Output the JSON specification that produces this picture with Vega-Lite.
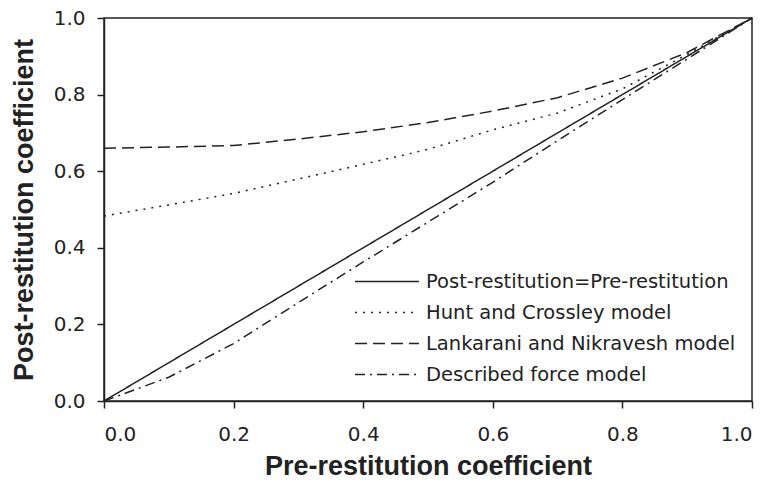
{
  "$schema": "https://vega.github.io/schema/vega-lite/v6.json",
  "autosize": "none",
  "width": 648,
  "height": 383,
  "padding": {"left": 104, "top": 18, "right": 27, "bottom": 83},
  "background": "white",
  "config": {
    "font": "DejaVu Sans",
    "view": {"stroke": "#222", "strokeWidth": 1.5},
    "axis": {
      "grid": false,
      "ticks": true,
      "domainColor": "#222",
      "domainWidth": 1.5,
      "tickColor": "#222",
      "tickWidth": 1.5,
      "tickSize": 7,
      "labelFont": "DejaVu Sans",
      "labelFontSize": 20,
      "labelColor": "#222",
      "titleFont": "Liberation Sans",
      "titleFontSize": 27,
      "titleFontWeight": "bold",
      "titleColor": "#222"
    },
    "legend": {
      "labelFont": "DejaVu Sans",
      "labelFontSize": 19.5,
      "labelColor": "#222",
      "padding": 0
    }
  },
  "data": {
    "values": [
      {"x": 0, "y": 0, "series": "Post-restitution=Pre-restitution"},
      {"x": 1, "y": 1, "series": "Post-restitution=Pre-restitution"},
      {"x": 0, "y": 0.483, "series": "Hunt and Crossley model"},
      {"x": 0.1, "y": 0.512, "series": "Hunt and Crossley model"},
      {"x": 0.2, "y": 0.542, "series": "Hunt and Crossley model"},
      {"x": 0.3, "y": 0.58, "series": "Hunt and Crossley model"},
      {"x": 0.4, "y": 0.618, "series": "Hunt and Crossley model"},
      {"x": 0.5, "y": 0.657, "series": "Hunt and Crossley model"},
      {"x": 0.6, "y": 0.708, "series": "Hunt and Crossley model"},
      {"x": 0.7, "y": 0.752, "series": "Hunt and Crossley model"},
      {"x": 0.8, "y": 0.815, "series": "Hunt and Crossley model"},
      {"x": 0.9, "y": 0.905, "series": "Hunt and Crossley model"},
      {"x": 1, "y": 1, "series": "Hunt and Crossley model"},
      {"x": 0, "y": 0.66, "series": "Lankarani and Nikravesh model"},
      {"x": 0.1, "y": 0.663, "series": "Lankarani and Nikravesh model"},
      {"x": 0.2, "y": 0.667, "series": "Lankarani and Nikravesh model"},
      {"x": 0.3, "y": 0.684, "series": "Lankarani and Nikravesh model"},
      {"x": 0.4, "y": 0.703, "series": "Lankarani and Nikravesh model"},
      {"x": 0.5, "y": 0.727, "series": "Lankarani and Nikravesh model"},
      {"x": 0.6, "y": 0.757, "series": "Lankarani and Nikravesh model"},
      {"x": 0.7, "y": 0.792, "series": "Lankarani and Nikravesh model"},
      {"x": 0.8, "y": 0.843, "series": "Lankarani and Nikravesh model"},
      {"x": 0.9, "y": 0.91, "series": "Lankarani and Nikravesh model"},
      {"x": 1, "y": 1, "series": "Lankarani and Nikravesh model"},
      {"x": 0, "y": 0, "series": "Described force model"},
      {"x": 0.1, "y": 0.062, "series": "Described force model"},
      {"x": 0.2, "y": 0.15, "series": "Described force model"},
      {"x": 0.3, "y": 0.257, "series": "Described force model"},
      {"x": 0.4, "y": 0.363, "series": "Described force model"},
      {"x": 0.5, "y": 0.467, "series": "Described force model"},
      {"x": 0.6, "y": 0.571, "series": "Described force model"},
      {"x": 0.7, "y": 0.68, "series": "Described force model"},
      {"x": 0.8, "y": 0.787, "series": "Described force model"},
      {"x": 0.9, "y": 0.893, "series": "Described force model"},
      {"x": 1, "y": 1, "series": "Described force model"}
    ]
  },
  "mark": {"type": "line", "color": "#222", "strokeWidth": 1.5},
  "encoding": {
    "x": {
      "field": "x", "type": "quantitative",
      "scale": {"domain": [0, 1], "nice": false},
      "axis": {"values": [0, 0.2, 0.4, 0.6, 0.8, 1.0], "format": ".1f", "ticks": true, "labelPadding": 16, "title": "Pre-restitution coefficient", "titlePadding": 9}
    },
    "y": {
      "field": "y", "type": "quantitative",
      "scale": {"domain": [0, 1], "nice": false},
      "axis": {"values": [0, 0.2, 0.4, 0.6, 0.8, 1.0], "format": ".1f", "ticks": true, "labelPadding": 12, "title": "Post-restitution coefficient", "titlePadding": 15}
    },
    "strokeDash": {
      "field": "series", "type": "nominal",
      "scale": {
        "domain": ["Post-restitution=Pre-restitution", "Hunt and Crossley model", "Lankarani and Nikravesh model", "Described force model"],
        "range": [[1, 0], [2, 6], [12, 6], [10, 5, 2, 5]]
      },
      "legend": {
        "title": null,
        "orient": "bottom-right",
        "offset": 16,
        "symbolType": "stroke",
        "symbolSize": 4096,
        "symbolStrokeColor": "#222",
        "symbolStrokeWidth": 1.5,
        "clipHeight": 21,
        "rowPadding": 10,
        "labelOffset": 6,
        "labelLimit": 500
      }
    },
    "order": {"field": "x", "type": "quantitative"}
  }
}
